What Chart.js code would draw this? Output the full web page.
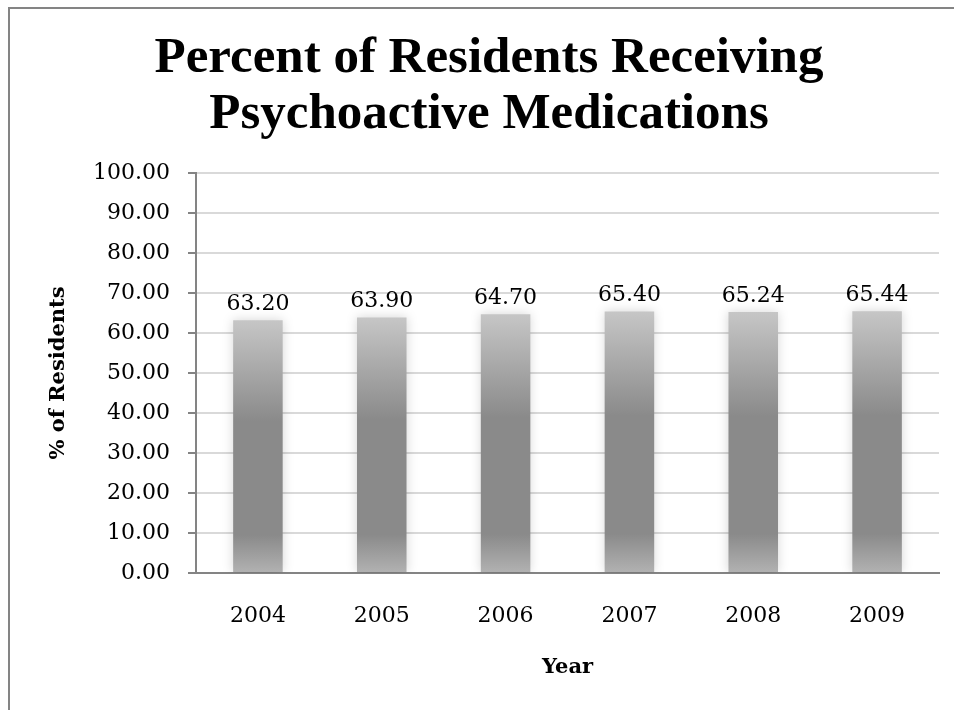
<!DOCTYPE html>
<html>
<head>
<meta charset="utf-8">
<script src="https://cdn.jsdelivr.net/npm/chart.js@4/dist/chart.umd.min.js"></script>
<style>
  html, body { margin: 0; padding: 0; background: #fff; overflow: hidden; }
  #wrap { position: relative; width: 954px; height: 710px; }
  #frame {
    position: absolute; left: 8px; top: 7px; width: 1000px; height: 800px;
    border-left: 2px solid #848484; border-top: 2px solid #848484;
  }
  canvas { position: absolute; left: 0; top: 0; }
</style>
</head>
<body>
<div id="wrap">
  <div id="frame"></div>
  <canvas id="chart" width="954" height="710"></canvas>
</div>
<script>
const years = ["2004", "2005", "2006", "2007", "2008", "2009"];
const percentResidents = [63.20, 63.90, 64.70, 65.40, 65.24, 65.44];
const yTicks = [0, 10, 20, 30, 40, 50, 60, 70, 80, 90, 100];

const serif = "'DejaVu Serif', 'Liberation Serif', serif";
const titleSerif = "'Liberation Serif', 'DejaVu Serif', serif";

// Excel-ish gray gradient for each bar
function barGradient(context) {
  const chart = context.chart;
  const { ctx, chartArea } = chart;
  if (!chartArea) return "#8a8a8a";
  const yScale = chart.scales.y;
  const top = yScale.getPixelForValue(context.raw);
  const bottom = yScale.getPixelForValue(0);
  const g = ctx.createLinearGradient(0, top, 0, bottom);
  g.addColorStop(0, "#c6c6c6");
  g.addColorStop(0.4, "#8a8a8a");
  g.addColorStop(0.85, "#8a8a8a");
  g.addColorStop(1, "#b2b2b2");
  return g;
}

// soft glow around the bars
const barGlow = {
  id: "barGlow",
  beforeDatasetDraw(chart) {
    const ctx = chart.ctx;
    ctx.save();
    ctx.shadowColor = "rgba(0,0,0,0.16)";
    ctx.shadowBlur = 10;
  },
  afterDatasetDraw(chart) {
    chart.ctx.restore();
  },
};

// value labels above bars
const valueLabels = {
  id: "valueLabels",
  afterDatasetsDraw(chart) {
    const ctx = chart.ctx;
    const meta = chart.getDatasetMeta(0);
    ctx.save();
    ctx.font = "22px " + serif;
    ctx.fillStyle = "#000";
    ctx.textAlign = "center";
    ctx.textBaseline = "alphabetic";
    meta.data.forEach((bar, i) => {
      ctx.fillText(percentResidents[i].toFixed(2), bar.x, bar.y - 10);
    });
    ctx.restore();
  },
};

new Chart(document.getElementById("chart").getContext("2d"), {
  type: "bar",
  data: {
    labels: years,
    datasets: [
      {
        data: percentResidents,
        backgroundColor: barGradient,
        borderWidth: 0,
        barPercentage: 0.8,
        categoryPercentage: 0.5,
      },
    ],
  },
  options: {
    responsive: false,
    animation: false,
    // left padding also shifts the centred title a little to the right
    layout: { padding: { left: 39, right: 15, top: 0, bottom: 0 } },
    plugins: {
      legend: { display: false },
      tooltip: { enabled: false },
      title: {
        display: true,
        text: ["Percent of Residents Receiving", "Psychoactive Medications"],
        color: "#000",
        font: { family: titleSerif, size: 51, weight: "bold", lineHeight: 56 / 51 },
        padding: { top: 31, bottom: 30 },
      },
    },
    scales: {
      x: {
        grid: { display: false, drawTicks: false },
        border: { display: true, color: "#848484", width: 2 },
        ticks: { color: "#000", font: { family: serif, size: 22 }, padding: 30 },
        title: {
          display: true,
          text: "Year",
          color: "#000",
          font: { family: serif, size: 21, weight: "bold" },
          padding: { top: 0, bottom: 30 },
        },
        afterFit(scale) { scale.height = 137; },
      },
      y: {
        min: 0,
        max: 100,
        afterBuildTicks(scale) { scale.ticks = yTicks.map((v) => ({ value: v })); },
        grid: { color: "#d9d9d9", lineWidth: 2, tickColor: "#848484", tickLength: 8 },
        border: { display: true, color: "#848484", width: 2 },
        ticks: {
          color: "#000",
          font: { family: serif, size: 22 },
          padding: 18,
          callback: (v) => Number(v).toFixed(2),
        },
        title: {
          display: true,
          text: "% of Residents",
          color: "#000",
          font: { family: serif, size: 21, weight: "bold" },
          padding: { top: 7, bottom: 0 },
        },
        afterFit(scale) { scale.width = 157; },
      },
    },
  },
  plugins: [barGlow, valueLabels],
});
</script>
</body>
</html>
